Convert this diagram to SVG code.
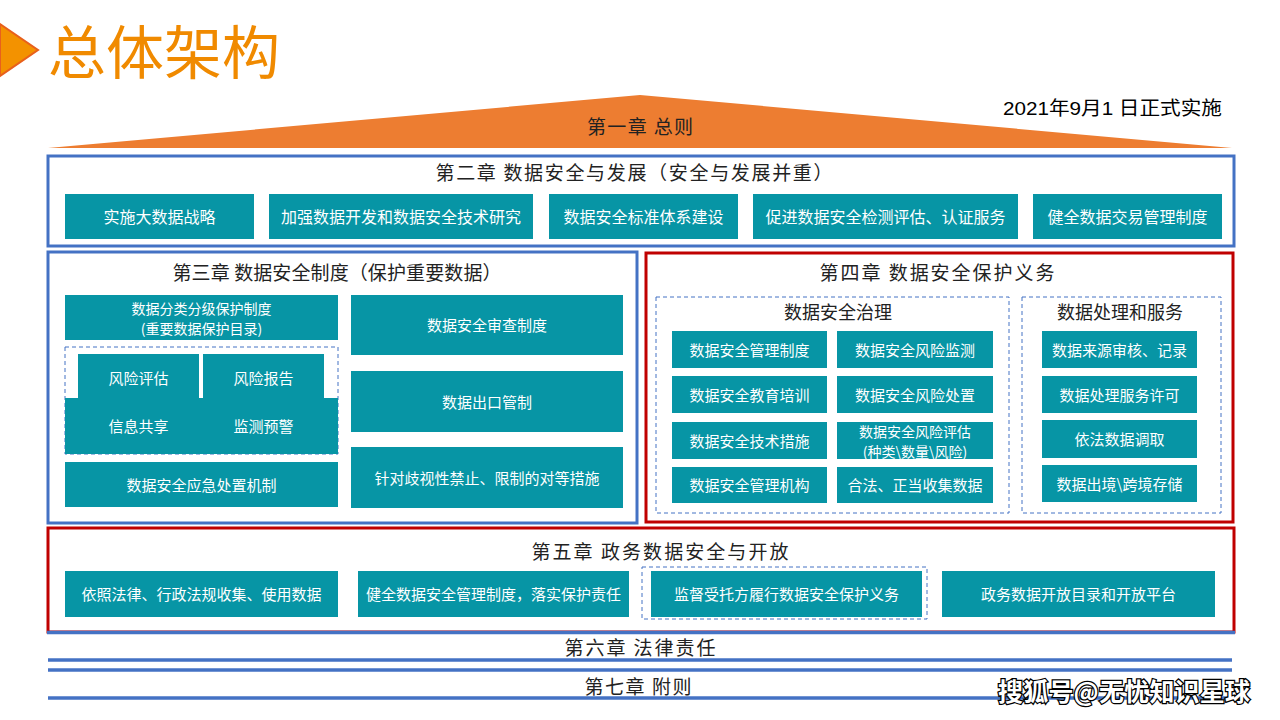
<svg xmlns="http://www.w3.org/2000/svg" width="1280" height="720" viewBox="0 0 1280 720">
<style>
.box{fill:#0795A5}
.t{font-family:"Noto Sans CJK SC","Liberation Sans",sans-serif;font-size:15px;fill:#fff;text-anchor:middle;dominant-baseline:central}
.t16{font-size:16px}
.t2{font-size:14px}
.h{font-family:"Noto Sans CJK SC","Liberation Serif",serif;font-size:19px;fill:#222;text-anchor:middle;dominant-baseline:central}
.sub{font-size:18px}
.blue{fill:none;stroke:#4472C4;stroke-width:3}
.red{fill:none;stroke:#C00000;stroke-width:3}
.dash{fill:none;stroke:#4472C4;stroke-width:1;stroke-dasharray:4 3}
.line{stroke:#4472C4;stroke-width:3.5}
</style>
<rect width="1280" height="720" fill="#fff"/>

<g id="title">
<polygon points="0,24 38,50 0,76" fill="#F39200" stroke="#E8601C" stroke-width="2"/>
<text x="48" y="74" font-family="'Noto Sans CJK SC','Liberation Sans',sans-serif" font-size="58" fill="#F08A00">总体架构</text>
</g>

<g id="date">
<text x="1003" y="108" font-family="'Liberation Sans','Noto Sans CJK SC',sans-serif" font-size="19" fill="#000" dominant-baseline="central" textLength="219" lengthAdjust="spacingAndGlyphs">2021年9月1 日正式实施</text>
</g>

<g id="ch1">
<polygon points="48,148 640,95 1232,148" fill="#ED7D31"/>
<text class="h" x="640" y="125" textLength="106">第一章 总则</text>
</g>

<g id="ch2">
<rect class="blue" x="48" y="156" width="1186" height="90"/>
<text class="h" x="634" y="171" textLength="397">第二章 数据安全与发展（安全与发展并重）</text>
<g id="ch2-1"><rect class="box" x="65" y="194" width="189" height="45"/><text class="t t16" x="159.5" y="216">实施大数据战略</text></g>
<g id="ch2-2"><rect class="box" x="269" y="194" width="264" height="45"/><text class="t t16" x="401" y="216">加强数据开发和数据安全技术研究</text></g>
<g id="ch2-3"><rect class="box" x="549" y="194" width="189" height="45"/><text class="t t16" x="643.5" y="216">数据安全标准体系建设</text></g>
<g id="ch2-4"><rect class="box" x="753" y="194" width="265" height="45"/><text class="t t16" x="885.5" y="216">促进数据安全检测评估、认证服务</text></g>
<g id="ch2-5"><rect class="box" x="1033" y="194" width="189" height="45"/><text class="t t16" x="1127.5" y="216">健全数据交易管理制度</text></g>
</g>

<g id="ch3">
<rect class="blue" x="48" y="252" width="589" height="271"/>
<text class="h" x="337" y="271" textLength="329">第三章 数据安全制度（保护重要数据）</text>
<g id="ch3-1"><rect class="box" x="65" y="295" width="273" height="45"/><text class="t t2" x="201.5" y="308">数据分类分级保护制度</text><text class="t t2" x="201.5" y="328">(重要数据保护目录)</text></g>
<g id="ch3-risk">
<rect class="dash" x="65" y="347" width="273" height="107"/>
<rect class="box" x="78" y="354" width="121" height="45"/>
<rect class="box" x="203" y="354" width="121" height="45"/>
<rect class="box" x="65" y="398" width="273" height="56"/>
<text class="t" x="138.5" y="377">风险评估</text>
<text class="t" x="263.5" y="377">风险报告</text>
<text class="t" x="138.5" y="425">信息共享</text>
<text class="t" x="263.5" y="425">监测预警</text>
</g>
<g id="ch3-3"><rect class="box" x="65" y="462" width="273" height="45"/><text class="t" x="201.5" y="484">数据安全应急处置机制</text></g>
<g id="ch3-4"><rect class="box" x="351" y="295" width="272" height="60"/><text class="t" x="487" y="324.5">数据安全审查制度</text></g>
<g id="ch3-5"><rect class="box" x="351" y="371" width="272" height="61"/><text class="t" x="487" y="401">数据出口管制</text></g>
<g id="ch3-6"><rect class="box" x="351" y="447" width="272" height="61"/><text class="t" x="487" y="477">针对歧视性禁止、限制的对等措施</text></g>
</g>

<g id="ch4">
<rect class="red" x="646" y="253" width="587" height="269"/>
<text class="h" x="937" y="271" textLength="235">第四章 数据安全保护义务</text>
<g id="ch4-gov">
<rect class="dash" x="656" y="297" width="353" height="216"/>
<text class="h sub" x="838" y="311">数据安全治理</text>
<rect class="box" x="672" y="331" width="155" height="37"/><text class="t" x="749.5" y="349">数据安全管理制度</text>
<rect class="box" x="672" y="376" width="155" height="37"/><text class="t" x="749.5" y="394">数据安全教育培训</text>
<rect class="box" x="672" y="422" width="155" height="37"/><text class="t" x="749.5" y="440">数据安全技术措施</text>
<rect class="box" x="672" y="467" width="155" height="36"/><text class="t" x="749.5" y="484.5">数据安全管理机构</text>
<rect class="box" x="837" y="331" width="156" height="37"/><text class="t" x="915" y="349">数据安全风险监测</text>
<rect class="box" x="837" y="376" width="156" height="37"/><text class="t" x="915" y="394">数据安全风险处置</text>
<rect class="box" x="837" y="422" width="156" height="37"/><text class="t t2" x="915" y="431">数据安全风险评估</text><text class="t t2" x="915" y="451">(种类\数量\风险)</text>
<rect class="box" x="837" y="467" width="156" height="36"/><text class="t" x="915" y="484.5">合法、正当收集数据</text>
</g>
<g id="ch4-svc">
<rect class="dash" x="1022" y="297" width="199" height="216"/>
<text class="h sub" x="1120" y="311">数据处理和服务</text>
<rect class="box" x="1042" y="331" width="155" height="37"/><text class="t" x="1119.5" y="349">数据来源审核、记录</text>
<rect class="box" x="1042" y="376" width="155" height="37"/><text class="t" x="1119.5" y="394">数据处理服务许可</text>
<rect class="box" x="1042" y="420" width="155" height="38"/><text class="t" x="1119.5" y="438.5">依法数据调取</text>
<rect class="box" x="1042" y="465" width="155" height="37"/><text class="t" x="1119.5" y="483">数据出境\跨境存储</text>
</g>
</g>

<g id="ch5">
<rect class="red" x="48" y="528" width="1186" height="104"/>
<text class="h" x="660" y="550" textLength="257">第五章 政务数据安全与开放</text>
<g id="ch5-1"><rect class="box" x="65" y="571" width="273" height="46"/><text class="t" x="201.5" y="593.5">依照法律、行政法规收集、使用数据</text></g>
<g id="ch5-2"><rect class="box" x="358" y="571" width="271" height="46"/><text class="t" x="493.5" y="593.5">健全数据安全管理制度，落实保护责任</text></g>
<g id="ch5-3"><rect class="dash" x="642" y="567" width="285" height="52"/><rect class="box" x="651" y="571" width="271" height="46"/><text class="t" x="786.5" y="593.5">监督受托方履行数据安全保护义务</text></g>
<g id="ch5-4"><rect class="box" x="942" y="571" width="273" height="46"/><text class="t" x="1078.5" y="593.5">政务数据开放目录和开放平台</text></g>
</g>

<g id="ch6">
<line class="line" x1="47" y1="632.5" x2="1235" y2="632.5"/>
<text class="h" x="640" y="646" textLength="151">第六章 法律责任</text>
<line class="line" x1="48" y1="660" x2="1232" y2="660"/>
</g>

<g id="ch7">
<line class="line" x1="48" y1="670" x2="1232" y2="670"/>
<text class="h" x="638" y="685" textLength="107">第七章 附则</text>
<line class="line" x1="48" y1="698" x2="1232" y2="698"/>
</g>

<g id="watermark">
<text x="998" y="690" font-family="'Noto Sans CJK SC','Liberation Sans',sans-serif" font-size="25" font-weight="bold" fill="#fff" stroke="#000" stroke-width="2.5" paint-order="stroke" dominant-baseline="central" textLength="252">搜狐号@无忧知识星球</text>
</g>
</svg>
